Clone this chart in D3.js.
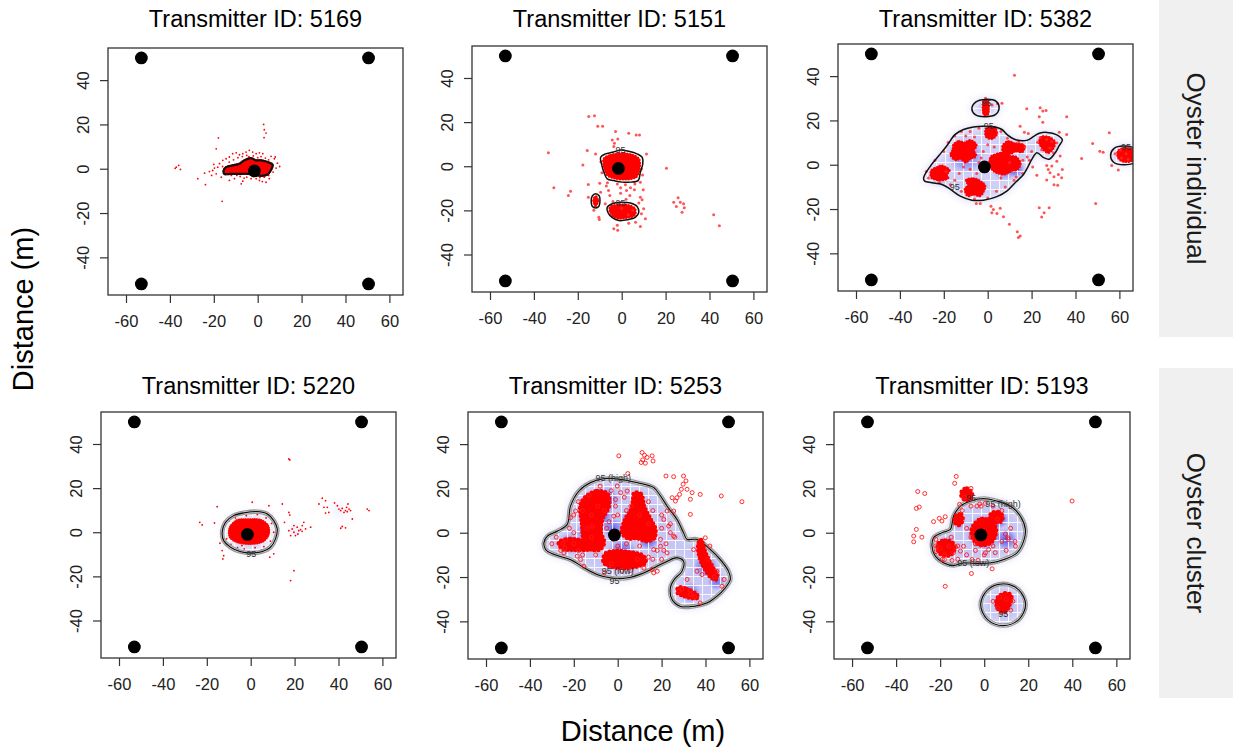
<!DOCTYPE html>
<html>
<head>
<meta charset="utf-8">
<script src="https://cdn.jsdelivr.net/npm/d3@7"></script>
<style>
  body { margin: 0; background: #fff; }
  text { font-family: "Liberation Sans", Arial, sans-serif; }
</style>
</head>
<body>
<svg id="chart" width="1233" height="754"></svg>
<script>
// ---- shared data ----
var xDomain = [-68.2, 66.2];
var yDomain = [-57, 54.5];
var xTicks = [-60, -40, -20, 0, 20, 40, 60];
var yTicks = [-40, -20, 0, 20, 40];
var receivers = [[-53, 50], [50.5, 50], [-53, -52], [50.5, -52], [-1.5, -1]];
var transmitterIds = ["5169", "5151", "5382", "5220", "5253", "5193"];
var groupNames = ["Oyster individual", "Oyster cluster"];

// ---- 5169 ----
var contours5169 = [
  [[-15.5,-0.8],[-14.4,0.7],[-11.4,1.5],[-8.3,2.3],[-6,3.8],[-3,4.8],[-1,3.8],[1.5,3.8],[4.5,3],[6.8,1.8],[6.1,-0.5],[4.5,-2.6],[1.5,-3.2],[-1.5,-2.6],[-4.5,-2.3],[-8.3,-2.3],[-12.1,-2.3],[-15.2,-2.3]]
];
var blobs5169 = contours5169;
var points5169 = [[2.7,20],[3,17.6],[3.8,16.1],[2.9,14],[-17.9,13.9],[-18.9,9],[-16.2,-14.7],[-27.3,-4.5],[-23.8,-7.2],[-24.2,-2],[-22,-1.3],
  [-37.1,0.7],[-36,1.5],[-35.2,-0.3],[-37.6,0.2],[-19.7,0.3],[-18.2,0.7],[-17.4,2.3],[-15.9,3.8],[-14.4,4.5],[-12.9,5.3],[-11.4,6.8],
  [-9.8,7.2],[-8.3,6.3],[-6.8,6.8],[-5.3,7.5],[-3.8,8.3],[-2.3,7.5],[-0.7,6.8],[0.8,7.2],[2.3,6.8],[6.1,5.6],[8,5.3],[7.6,4.5],[8.4,0.3],
  [5.3,-4.5],[3.8,-6.1],[0.8,-5.3],[-0.7,-4.5],[-3,-4.5],[-6.8,-5.6],[-7.5,-6.8],[-9.5,-3],[-10.6,-4.5],[-12.9,-5.3],[-16.6,-3.8],
  [-18.9,-2.3],[-20.5,-0.8],[-13,3],[-11,4],[-9,5],[-7,5.5],[-5,6],[-4,5.5],[-2,5.8],[0,5],[1.5,5.5],[3.5,4.8],[5,4],[-14,-1.5],
  [-12,-3],[-8,-3.5],[-5,-3.8],[-2,-3.5],[1,-4],[3,-3.8],[5,-3],[7,-1.5],[-16,1],[-15,-1],[9,2.5],[10,1],[-20,2],[-21,-3],[-6.2,-4.2],[2.1,-5.8]];
var labels5169 = [];
var density5169 = [];

// ---- 5151 ----
var contours5151 = [
  [[-9.6,4.1],[-7.4,5.6],[-4.3,6.3],[-0.5,7.4],[3.2,6.8],[7,5.6],[9.3,4.1],[9.6,1.1],[8.5,-2.7],[7.5,-6.5],[4,-7.2],[0.2,-7.2],[-3.6,-6.5],[-6.6,-5.7],[-8.1,-2.7],[-9.2,1.1]],
  [[-11.9,-12.5],[-10.2,-13.5],[-9.9,-15.7],[-10.3,-18],[-11.9,-18.9],[-13.5,-18],[-13.9,-15.7],[-13.4,-13.5]],
  [[-6.6,-18.6],[-4.3,-17],[-0.5,-16.3],[4,-16.7],[7,-18.2],[7.8,-20.8],[6.3,-23.1],[2.5,-24.3],[-1.3,-24.6],[-4.3,-23.3],[-6.1,-21.3]]
];
var blobs5151 = [
  [[-8,3.5],[-5,5],[0,5.8],[5,5],[7.8,3.2],[8,-1],[6.5,-4.8],[2,-5.8],[-3,-5.4],[-6.6,-3.8],[-8,0]],
  [[-5.3,-18.7],[-2,-17.6],[3,-17.8],[5.9,-19.2],[5.9,-22],[2,-23.2],[-2,-23.4],[-4.7,-21.8]],
  [[-11.9,-13.6],[-10.9,-15.7],[-11.9,-17.9],[-12.8,-15.7]]
];
var points5151 = [[-15,22.6],[-12.4,22.9],[-10.9,18.1],[-8.7,18.1],[-2.8,15.8],[3.2,14.9],[6.6,14.2],[8.1,14.2],[-4.3,11.9],[-1.8,12.4],
  [-3.3,10.4],[-3.6,8.9],[-33.4,6.1],[-15.7,7.1],[-11.9,5.6],[11.3,5.6],[-17.7,0.6],[20.4,-0.9],[-30.9,-9.8],[-23.3,-11.3],[-24.3,-13.3],
  [-15.2,-8.3],[-10,-7.7],[-15.2,-14],[-9.6,-11.8],[-5.4,-13.3],[-0.5,-12.2],[3.7,-13.3],[5.8,-10.7],[8.5,-14],[9.8,-10.7],[9.3,-15.2],
  [-12.7,-20],[-10.4,-23.1],[-10.2,-24.1],[9,-21.5],[10.8,-23.8],[8.5,-27.3],[-3.6,-28.3],[-1.8,-29],[3.2,-25.8],[6.3,-25.4],[-2,-26.8],
  [23.7,-16.3],[25.7,-14.3],[26.7,-16.3],[28.2,-17],[24.9,-18.2],[28.5,-18.8],[27.5,-20.8],[41.9,-22],[44.5,-27],[10,-19.3],[7.8,-16.7],
  [8.5,-7.2],[9,-1.2],[-0.5,-9.8],[1.7,-8.4],[4,-9.8],[2.2,-11],[-7,-9],[-6,-11],[-4,-16],[2,-15],[-7.5,-17],[5,-20],[-5,-22],[0,-19],
  [3,-22],[-9.5,2],[-9,-3],[9.5,-4],[6,-8],[-2,-8],[-6.5,-7.5]];
var labels5151 = [[-0.5, 7.6, "95"], [-0.5, -16.5, "95"]];
var density5151 = [];

// ---- 5382 ----
var contours5382 = [
  [[-29.2,-5.9],[-26.1,-0.6],[-22.4,3.9],[-18.5,8.7],[-14.8,13.7],[-11,15.9],[-6.5,17],[-1.9,17.4],[2.6,17.1],[6.5,15.9],[8.7,13.7],
   [12.5,11.4],[17.8,11],[21,12.8],[23.5,14.2],[27,14.6],[31.5,13.5],[34,11.2],[32.5,8.5],[30.5,5],[28,2.5],[25.5,3.2],[22.4,5.4],
   [20.1,2.4],[18.5,-0.6],[16.3,-4.4],[12.5,-8.1],[8.7,-11.9],[4.2,-14.4],[-1.9,-16],[-7.2,-16],[-12.5,-14.2],[-17,-11.1],[-20.8,-8.9],
   [-25.4,-8.1],[-28.7,-7.4]],
  [[-7.2,25.2],[-5.5,28.3],[-1,29.5],[4,28.5],[5.2,25.5],[3.5,22.6],[-1,21.7],[-5.5,22.5]],
  [[56,4.2],[57.5,7.3],[62,8.4],[67,7.3],[68,4.2],[67,1],[62,0],[57.5,1]]
];
var blobs5382 = [
  [[-15.5,9],[-13,10.5],[-10.5,9.8],[-8,11],[-5.2,8.8],[-6.5,6.5],[-5.4,4],[-8,2.8],[-10,1.2],[-12.5,3],[-14.5,2.2],[-16.8,4.5],[-15.8,6.8]],
  [[1.5,3.5],[4.5,4.8],[7.5,5.5],[10,3.8],[12.8,3.5],[14.8,0.5],[13.5,-2],[11,-2.6],[8,-4.2],[5,-3.8],[2.5,-2.5],[1,0]],
  [[-9.8,-7],[-6.5,-6.3],[-3.5,-7.5],[-1.3,-9.5],[-2,-12],[-3.5,-14],[-6.5,-13.3],[-9,-14],[-10.3,-11],[-8.7,-9.2]],
  [[-25.6,-2.6],[-23,-1.2],[-21,-0.5],[-17.5,-2.6],[-18.8,-4.4],[-18.2,-6],[-22.4,-6.9],[-25.6,-5.6]],
  [[7,8.7],[9.5,10.5],[12,9.6],[16.5,8.7],[15.8,5.9],[12.5,6.2],[10.2,5.1],[7,6.3]],
  [[-0.6,16.2],[3,16.9],[4,13.7],[1.9,11.9],[-0.6,12.7]],
  [[-1.8,28.5],[0,29],[0.3,25],[0,22.8],[-1.5,22.5],[-2.1,25]],
  [[24.5,12.5],[28,12.3],[30.5,10.3],[29.6,7.2],[27.5,5.5],[25.3,7.2],[23.6,10]],
  [[59.5,6.2],[63,7.5],[66.5,6.2],[66.5,2.4],[62,1.5],[59.5,3.3]]
];
var points5382 = [[12.2,40.4],[17.8,25.3],[23.9,25.7],[25.1,24.2],[26.6,24.5],[23.5,21.7],[36,21.7],[6.5,27.7],[14.8,17.4],[16.7,14.7],
  [18.5,14.1],[25.1,19.2],[32.6,14.7],[36,13.7],[55.4,14.4],[47.8,9.6],[42.8,2.8],[51.1,6.1],[52.6,5.6],[56.5,-0.3],[59.5,-2.4],
  [49.2,-17.5],[22.4,-4.8],[26.9,-0.3],[28.4,-3.6],[30.2,-5.4],[32.2,-4.4],[33.7,-5.9],[27.6,-2.1],[31.5,1.6],[29.2,-0.6],[34,-2.1],
  [26.9,-6.9],[30.2,-9],[31.9,-9.3],[23.5,-19.4],[25.7,-21.7],[28,-19.4],[24.6,-23.6],[1.5,-18.7],[2.6,-20.2],[5.7,-19.7],[4.2,-22],
  [1.9,-21.7],[7.2,-23.5],[9.9,-26.9],[13.5,-30.2],[14.8,-32.2],[14,-32.9],[-5.2,-17.5],[-3.4,-17.5],[23.9,12.2],[26.9,11.4],
  [29.2,10.5],[31.5,9.8],[28.4,7.6],[29.9,5.4],[33,3.9],[24.6,6.8],[22.7,10.2],[-18,10],[-15,13],[-12,15],[-8,15],[-4,16.5],[6,15],
  [9,12],[14,10.5],[17,8],[20,6],[19,2],[16,-4],[12,-7],[8,-10],[4,-12],[0,-15],[-6,-15.5],[-12,-12],[-17,-9],[-22,-8],[-27,-6],
  [-28,-3],[-24,2],[-20,6],[-13,-4],[-8,-2],[-3,3],[3,8],[10,1],[-5,-4],[-1,30],[2,27],[4.5,27.5],[-10,13],[-6,12.5],[0,9],
  [-19,-3],[-15,-7],[13,-5.5],[18,3.5],[20.5,-1],[61,3],[63,5],[64,2.5],[58,5],[60.5,6.5],[-11,-1],[-4,1],[6,-6],[-2,6],[16,2]];
var labels5382 = [[0.5, 17.6, "95"], [-15, -10, "95"], [-0.5, 28, "95"], [63, 8.2, "95"]];
var density5382 = [[-10,4,10,0.55],[8,-1,8,0.55],[13,-2,5,0.65],[-5,-10,6,0.45],[-22,-5,6,0.35],[-1,26,4,0.25],[28,8,5,0.2],[62,4,4,0.2]];

// ---- 5220 ----
var contours5220 = [
  [[-13,0],[-11.5,4.5],[-7.7,7.6],[-3.1,8.8],[3,9.3],[7.5,8.3],[10.5,5.3],[12.1,1.5],[11.3,-3],[9,-6.8],[5.2,-8.8],[-0.1,-9.4],
   [-4.7,-8.8],[-9.2,-6.8],[-12.3,-3.8]]
];
var blobs5220 = [
  [[-9.5,2.1],[-6.2,5.4],[-0.9,5.8],[4.5,5.5],[7.8,3.1],[8.2,-0.8],[5.6,-4.1],[-0.1,-5.2],[-6.2,-4.4],[-9.5,-2.1]]
];
var points5220 = [[17.4,33.2],[17.8,32.8],[0.7,13.6],[8.3,12],[14.4,12.8],[-15.3,11.6],[-23.2,4.5],[-22.1,3.3],[-16.5,4.2],[-13,-8.3],
  [-12.3,-10.6],[-12.7,-12.1],[-11,-6.1],[8.7,-11.3],[10.5,-9.8],[17.4,9],[17.8,7.8],[15.4,4.5],[19.7,-17.4],[18.2,-21.9],[27.3,2.3],
  [17.4,0.7],[18.9,1.5],[19.7,0],[21.2,2.3],[21.9,0.7],[22.7,1.2],[23.5,3],[24.2,4.5],[20.4,-1.5],[18.2,-1.5],[19.7,3],[21.5,-0.8],
  [25,1.5],[23.4,0.4],[32.6,15.4],[34.1,14.3],[31.1,12.8],[33.4,11.3],[34.9,11.3],[35.6,9],[34.1,8.7],[38.2,13.3],[39.5,12],[40.2,10.5],
  [41,9.8],[41.7,10.8],[42.5,9],[43.2,9.8],[44,9.3],[44.3,12.8],[43.7,11.3],[44.8,10.5],[45.5,9.8],[41,1.8],[41.7,2.6],[43.2,2],
  [46.3,6],[53.1,10.5],[53.9,9.8],[-12,2],[-11,-3],[-9,-5.5],[-6,-7],[-3,-7.5],[2,-7],[6,-6.5],[9,-4],[10.5,0],[9.5,4],[7,6.5],[3,8],
  [-2,7.5],[-7,6.5],[-10,5],[-14,-5],[-13.5,1],[12,-2],[11,3],[-4,-6],[5,-8],[-8,7]];
var labels5220 = [[0.3, -9.6, "95"]];
var density5220 = [[-1,-1,12,0.2],[20,1,5,0.08],[40,10,7,0.06]];

// ---- 5253 ----
var contours5253 = [
  [[-33.6,-4.5],[-32,-1.5],[-27.5,0.7],[-23,3.8],[-21.5,12],[-17.7,18.8],[-12.4,22.6],[-6.3,24.4],[1.3,24.1],[8.9,22.6],[16.4,20.4],
   [19.5,16.6],[22.5,12],[27,6],[30,0],[31.6,-3],[36.1,-3],[42.2,-7.6],[46.7,-12.1],[50.5,-17.4],[51.3,-21.1],[49,-24.9],[45.2,-28.7],
   [40.7,-31.7],[34.6,-33.2],[28.5,-33.2],[24.8,-30.2],[24,-24.9],[25.8,-21.1],[29.3,-17.4],[30,-12.9],[27,-11.3],[22.5,-12.9],
   [18,-15.1],[11.9,-18.1],[4.3,-20.4],[-3.3,-20.4],[-9.3,-18.9],[-15.4,-15.8],[-21.5,-12.1],[-29,-9.8],[-32.8,-7.6]]
];
var blobs5253 = [
  [[-14.8,16],[-9.3,18.8],[-4.6,17.4],[-4,12],[-7,6],[-7.6,0],[-6.2,-4.5],[-8.2,-7.6],[-13.4,-7],[-15.5,-3],[-16.3,4.5],[-17,12]],
  [[7.6,18],[10.6,17.4],[12,12],[15,6],[17.2,1.5],[16.6,-2.5],[13.2,-3.8],[8.9,-2.5],[4.6,-2.5],[2,0],[3.4,6],[6.2,10.5],[7,15.1]],
  [[-5.7,-9.6],[-0.2,-8.2],[5.8,-8.9],[11.4,-10.3],[12.7,-13.4],[8.9,-15.2],[2.8,-15.9],[-3.3,-15.2],[-6.4,-13.4]],
  [[-26.8,-4.3],[-21.5,-2.9],[-15.4,-3.6],[-10,-5],[-9.3,-6.6],[-13.9,-7.7],[-20,-7.7],[-25.5,-7.1]],
  [[37.8,-3.2],[38.6,-4.6],[40.1,-9.4],[43.1,-15.3],[45.4,-19.6],[44.6,-21.2],[42.3,-19.9],[39.5,-16.1],[37.2,-10.6],[36.7,-5.3]],
  [[27.6,-24.8],[31.6,-25.5],[35.6,-27.6],[36.7,-29.2],[34.6,-29.6],[30,-28.5],[27.3,-27.1]]
];
var points5253 = [[0.5,34.7],[11.1,36.2],[12.2,35],[13.4,34],[11.4,32.9],[12.6,31.4],[15.7,34.7],[16.1,32.4],[10.7,31.7],[4.6,26.7],
  [22,25.6],[25.5,25.3],[30,25.6],[31.1,23.4],[29.8,21.9],[29,19.6],[28.2,17.3],[27,15.8],[31.6,19.6],[33.9,18.1],[37.6,17.3],
  [33.1,15.1],[24.8,15.8],[26.3,14.3],[25.5,9.8],[33.1,8.3],[47.2,16.6],[56.6,14],[22.5,9.8],[21,6],[23.2,3],[25.5,-1.5],[19.5,-3],
  [16.4,-7.6],[19.5,-6.1],[22.5,-9.1],[18,-17.4],[16.4,-18.1],[15.7,-16.6],[-15.4,-15.1],[-18.4,-10.6],[-16.9,-12.1],[-24.5,-9.1],
  [4.3,18.8],[1.3,18.1],[-0.2,21.1],[-1.8,7.5],[-1,12],[-19.2,9.8],[-21.5,6.8],[-23.7,-3],[-20,0],[-11.6,3],[39.9,-2.3],[34.6,-7.6],
  [45.2,-17.4],[48.5,-21.1],[36.1,-17.4],[31.6,-21.1],[27.8,-26.4],[37.6,-31.7],[38.4,-18.9],[47.5,-24.2],[33.1,-27.9],[29.3,-25.4],
  [-20,8],[-18,14],[-13,17],[-8,21],[-3,19],[3,16],[6,12],[10,8],[14,4],[20,2],[18,-8],[14,-11],[9,-12],[4,-5],[-2,-3],[-4,5],
  [-10,-10],[-18,-8],[-25,-5],[-28,-2],[-22,2],[-14,2],[-12,8],[-6,10],[0,8],[-3,-14],[6,-17],[12,-16],[16,10],[20,8],[24,4],
  [26,-2],[22,-5],[-26,-8],[-30,-5],[41,-12],[44,-20],[33,-26],[35,-29],[42,-6],[-5,2],[-9,12],[-12,-2],[0,-6],[10,-6],[4,10],
  [-20,-5],[-16,-10],[-6,-18],[2,-17],[16,-12],[20,-12],[14,14],[-1,15],[-16,10],[-24,-7],[24,0],[21,-8]];
var labels5253 = [[-2, 24.8, "95 (high)"], [0, -17.3, "95 (low)"], [-1.5, -21.6, "95"]];
var density5253 = [[-10,8,10,0.9],[-14,0,6,0.75],[8,5,9,0.9],[2,-10,9,0.8],[-22,-5,6,0.6],[14,-3,6,0.75],[40,-15,7,0.55],
  [33,-27,6,0.55],[45,-22,5,0.55],[-5,15,7,0.6],[-2,2,6,0.6]];

// ---- 5193 ----
var contours5193 = [
  [[-23.7,-6.1],[-23,-2.3],[-19.2,0],[-15.4,1.5],[-13.9,7.5],[-10.8,12],[-6.3,14.3],[-0.3,15.4],[5.8,14.3],[11.9,12],[16.4,7.5],
   [18.7,1.5],[17.9,-3.8],[14.9,-9.1],[8.8,-12.1],[2.8,-13.6],[-3.3,-13.9],[-9.3,-13.6],[-13.9,-14.8],[-18.4,-13.6],[-22.2,-10.6]],
  [[8.6,-23.1],[15.8,-25.9],[18.8,-32.5],[15.8,-39.1],[8.6,-41.9],[1.4,-39.1],[-1.6,-32.5],[1.4,-25.9]]
];
var blobs5193 = [
  [[-4.3,4],[-1,6.3],[3.2,4.9],[5.3,2.1],[4.7,-2.1],[2.5,-4.8],[-1.7,-5.6],[-4.6,-3.5],[-5.8,0.7]],
  [[3.2,8.6],[6.6,9.3],[8.3,7.3],[7.7,5.2],[4.5,4.9],[2.5,6.3]],
  [[-20.9,-4.8],[-17.7,-3.5],[-14.4,-4.5],[-13.6,-7.6],[-15.6,-10.1],[-19,-10.1],[-20.9,-8.1]],
  [[-10,18.9],[-7.8,19.9],[-5.6,17.8],[-6,15.5],[-8.6,14.8],[-10.3,16.6]],
  [[-12.6,7.9],[-10.4,8.2],[-9.9,5.3],[-11.6,3.5],[-13.4,4.7]],
  [[6.2,-29.3],[9.6,-27.4],[12.2,-28.3],[11.5,-32.5],[9.4,-35.7],[6.9,-35],[5.6,-32.5]]
];
var points5193 = [[-12.7,25.4],[-13.4,22.3],[-30.2,18.6],[-27,17.7],[-30.8,11],[-29.5,11.6],[-30.8,1.5],[-32,-1.5],[-32,-4.1],
  [-28.3,-2],[-23,5],[-20.4,6.5],[-17.7,7.2],[-21.9,-8.6],[-18.1,-12.1],[-14.6,-12.5],[-17.7,-24.2],[-5.8,-18.4],[-5.5,-12.1],
  [-2.8,-12.4],[0.5,-9.1],[3.6,-16.3],[-4,-5],[2,-7.6],[9.6,-0.6],[10.8,-2.3],[14.2,-6.1],[-3.3,12],[-1.4,12],[0.5,13.3],[-11.2,12.8],
  [39.9,14.3],[-19.2,5.3],[-10.8,-8.3],[-9.4,-6.1],[-15,-2],[-12,-6],[-18,-10],[-22,-6],[-8,2],[-10,10],[-6,12],[-2,13],[4,12],
  [8,10],[12,2],[14,-4],[10,-8],[5,-9],[0,-10],[-4,-8],[-8,-10],[-12,-12],[7,-29],[6,-34],[12,-35],[10,-30],[13,-31],[4,-31],
  [-16,-6],[-20,-7],[-14,-9],[11,-3],[8,-4],[-22,-3],[-19,-12],[-13,-6.5],[-9,16],[-6,20],[6,6],[-6,-2],[4,-6]];
var labels5193 = [[-6, 15.8, "95"], [8.5, 13.2, "95 (high)"], [-5, -13.4, "95 (low)"], [8.6, -36.8, "95"]];
var density5193 = [[0,0,10,0.95],[7,6,5,0.7],[-17,-6,6,0.6],[9,-32,6,0.6],[-8,16,4,0.4],[10,-3,6,0.7],[-12,5,5,0.4]];

// ---- layout ----
var panels = [
  {id: transmitterIds[0], contours: contours5169, blobs: blobs5169, points: points5169, labels: labels5169, density: density5169,
   box: {left: 108, top: 48, w: 295, h: 247}, titleY: 27, mark: "dot", line: "solid", shade: 0},
  {id: transmitterIds[1], contours: contours5151, blobs: blobs5151, points: points5151, labels: labels5151, density: density5151,
   box: {left: 472, top: 46, w: 295, h: 246}, titleY: 27, mark: "star", line: "solid", shade: 0},
  {id: transmitterIds[2], contours: contours5382, blobs: blobs5382, points: points5382, labels: labels5382, density: density5382,
   box: {left: 838, top: 44, w: 295, h: 247}, titleY: 27, mark: "star", line: "solid", shade: 0.85},
  {id: transmitterIds[3], contours: contours5220, blobs: blobs5220, points: points5220, labels: labels5220, density: density5220,
   box: {left: 101, top: 412, w: 295, h: 246}, titleY: 394, mark: "dot", line: "ring", shade: 0.35},
  {id: transmitterIds[4], contours: contours5253, blobs: blobs5253, points: points5253, labels: labels5253, density: density5253,
   box: {left: 468, top: 412, w: 295, h: 247}, titleY: 394, mark: "circle", line: "ring", shade: 1},
  {id: transmitterIds[5], contours: contours5193, blobs: blobs5193, points: points5193, labels: labels5193, density: density5193,
   box: {left: 834, top: 412, w: 296, h: 247}, titleY: 394, mark: "circle", line: "ring", shade: 1}
];
var strips = [{x: 1159, y: 0, w: 74, h: 337}, {x: 1159, y: 368, w: 74, h: 330}];
// bead size along the edge of dense clouds, per marker type
var bead = {dot: [2.4, 2.2], star: [3, 2.8], circle: [4.6, 4]};

var svg = d3.select("#chart");
var defs = svg.append("defs");

defs.append("filter").attr("id", "soft")
    .attr("x", "-30%").attr("y", "-30%").attr("width", "160%").attr("height", "160%")
  .append("feGaussianBlur").attr("stdDeviation", 4);

var grad = defs.append("radialGradient").attr("id", "dens");
grad.append("stop").attr("offset", "0%").attr("stop-color", "#1a1ae8").attr("stop-opacity", 1);
grad.append("stop").attr("offset", "55%").attr("stop-color", "#5050ee").attr("stop-opacity", 0.55);
grad.append("stop").attr("offset", "100%").attr("stop-color", "#ffffff").attr("stop-opacity", 0);

defs.append("pattern").attr("id", "grid")
    .attr("patternUnits", "userSpaceOnUse").attr("width", 9).attr("height", 9)
  .append("path").attr("d", "M0,0.5H9M0.5,0V9")
    .style("stroke", "#fff").style("stroke-width", 1.1).style("stroke-opacity", 0.85);

function drawPanel(p, i) {
    var b = p.box;
    var x = d3.scaleLinear().domain(xDomain).range([b.left, b.left + b.w]);
    var y = d3.scaleLinear().domain(yDomain).range([b.top + b.h, b.top]);
    var path = d3.line()
        .x(function(d){ return x(d[0]); })
        .y(function(d){ return y(d[1]); })
        .curve(d3.curveCatmullRomClosed.alpha(0.5));
    var rpx = function(r){ return x(r) - x(0); };

    defs.append("clipPath").attr("id", "box" + i).append("rect")
        .attr("x", b.left).attr("y", b.top).attr("width", b.w).attr("height", b.h);
    defs.append("clipPath").attr("id", "cont" + i)
        .selectAll("path").data(p.contours).enter().append("path").attr("d", path);

    var g = svg.append("g").attr("clip-path", "url(#box" + i + ")");

    // kernel density image
    if (p.shade > 0) {
        g.append("g").attr("filter", "url(#soft)")
            .selectAll("path").data(p.contours).enter().append("path")
            .attr("d", path)
            .style("fill", "#c6c6f4").style("fill-opacity", p.shade);
        g.selectAll(".hot").data(p.density).enter().append("circle")
            .attr("class", "hot")
            .attr("cx", function(d){ return x(d[0]); })
            .attr("cy", function(d){ return y(d[1]); })
            .attr("r", function(d){ return rpx(d[2]); })
            .style("fill", "url(#dens)")
            .style("fill-opacity", function(d){ return d[3]; });
        g.append("rect")
            .attr("x", b.left).attr("y", b.top).attr("width", b.w).attr("height", b.h)
            .attr("clip-path", "url(#cont" + i + ")")
            .style("fill", "url(#grid)");
    }

    var lines = function() {
        if (p.line == "ring") {
            [["#9a9a9a", 4.6], ["#ffffff", 2], ["#111", 1.3]].forEach(function(s) {
                g.append("g").selectAll("path").data(p.contours).enter().append("path")
                    .attr("d", path)
                    .style("fill", "none").style("stroke", s[0]).style("stroke-width", s[1]);
            });
        } else {
            g.append("g").selectAll("path").data(p.contours).enter().append("path")
                .attr("d", path)
                .style("fill", "none").style("stroke", "#111")
                .style("stroke-width", i == 0 ? 2.2 : 1.5);
        }
    };

    if (p.mark == "circle") lines();

    // dense detection clouds, with a beaded edge so they read as many marks
    var bd = bead[p.mark];
    var clouds = g.append("g");
    clouds.selectAll(".cloud").data(p.blobs).enter().append("path")
        .attr("class", "cloud")
        .attr("d", path)
        .style("fill", "#ff0000")
        .style("stroke", "#ff0000").style("stroke-width", 0.8);
    clouds.selectAll(".edge").data(p.blobs).enter().append("path")
        .attr("class", "edge")
        .attr("d", path)
        .style("fill", "none")
        .style("stroke", "#ff0000")
        .style("stroke-width", bd[0])
        .style("stroke-linecap", "round")
        .style("stroke-dasharray", "0 " + bd[1]);

    // individual detections
    var pts = g.append("g").selectAll("circle").data(p.points).enter().append("circle")
        .attr("cx", function(d){ return x(d[0]); })
        .attr("cy", function(d){ return y(d[1]); });
    if (p.mark == "circle") {
        pts.attr("r", 2).style("fill", "none").style("stroke", "#ff1a1a").style("stroke-width", 0.9);
    } else if (p.mark == "star") {
        pts.attr("r", 1.5).style("fill", "#ff2a2a").style("fill-opacity", 0.8);
    } else {
        pts.attr("r", 0.9).style("fill", "#ff0000");
    }

    if (p.mark != "circle") lines();

    g.append("g").selectAll("text").data(p.labels).enter().append("text")
        .attr("x", function(d){ return x(d[0]); })
        .attr("y", function(d){ return y(d[1]); })
        .attr("dy", "0.35em")
        .attr("text-anchor", "middle")
        .style("font-size", "9px").style("fill", "#333")
        .text(function(d){ return d[2]; });

    // receivers
    g.append("g").selectAll("circle").data(receivers).enter().append("circle")
        .attr("cx", function(d){ return x(d[0]); })
        .attr("cy", function(d){ return y(d[1]); })
        .attr("r", 6.4)
        .style("fill", "#000");

    svg.append("rect")
        .attr("x", b.left).attr("y", b.top).attr("width", b.w).attr("height", b.h)
        .style("fill", "none").style("stroke", "#333").style("stroke-width", 1.3);

    var xAxis = svg.append("g")
        .attr("transform", "translate(0," + (b.top + b.h) + ")")
        .call(d3.axisBottom(x).tickValues(xTicks).tickSize(8).tickPadding(12)
              .tickFormat(function(d){ return String(d); }));
    var yAxis = svg.append("g")
        .attr("transform", "translate(" + b.left + ",0)")
        .call(d3.axisLeft(y).tickValues(yTicks).tickSize(8)
              .tickFormat(function(d){ return String(d); }));
    [xAxis, yAxis].forEach(function(a) {
        a.select(".domain").remove();
        a.selectAll("line").style("stroke", "#333").style("stroke-width", 1.2);
        a.selectAll("text")
            .style("font-family", "'Liberation Sans', Arial, sans-serif")
            .style("font-size", "16.5px").style("fill", "#222");
    });
    yAxis.selectAll("text")
        .attr("transform", "rotate(-90)")
        .attr("x", 0).attr("y", -25).attr("dy", "0.35em")
        .attr("text-anchor", "middle");

    svg.append("text")
        .attr("x", b.left + b.w / 2).attr("y", p.titleY)
        .attr("text-anchor", "middle")
        .style("font-size", "23.5px").style("fill", "#000")
        .text("Transmitter ID: " + p.id);
}

panels.forEach(drawPanel);

// facet strips
svg.selectAll(".strip").data(strips).enter().append("rect")
    .attr("class", "strip")
    .attr("x", function(d){ return d.x; }).attr("y", function(d){ return d.y; })
    .attr("width", function(d){ return d.w; }).attr("height", function(d){ return d.h; })
    .style("fill", "#f0f0f0");
svg.selectAll(".stripText").data(groupNames).enter().append("text")
    .attr("class", "stripText")
    .attr("transform", function(d, i) {
        var s = strips[i];
        return "translate(" + (s.x + s.w / 2) + "," + (s.y + s.h / 2) + ") rotate(90)";
    })
    .attr("dy", "0.35em")
    .attr("text-anchor", "middle")
    .style("font-size", "26px").style("fill", "#1a1a1a")
    .text(function(d){ return d; });

// shared axis titles
svg.append("text")
    .attr("transform", "translate(23,309) rotate(-90)")
    .attr("dy", "0.35em")
    .attr("text-anchor", "middle")
    .style("font-size", "29px").style("fill", "#000")
    .text("Distance (m)");
svg.append("text")
    .attr("x", 643).attr("y", 741)
    .attr("text-anchor", "middle")
    .style("font-size", "29px").style("fill", "#000")
    .text("Distance (m)");
</script>
</body>
</html>
